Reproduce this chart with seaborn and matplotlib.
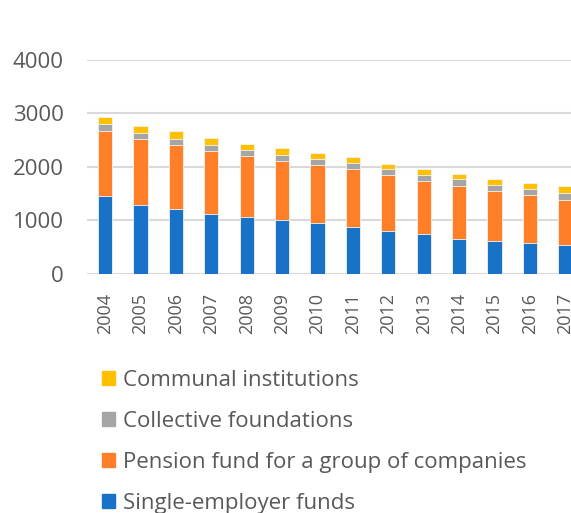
import numpy as np
import pandas as pd
import matplotlib
matplotlib.use("Agg")
import matplotlib.pyplot as plt
import seaborn as sns
from matplotlib.patches import Patch

years = [str(y) for y in range(2004, 2018)]
single_employer = [1457, 1289, 1214, 1121, 1053, 997, 941, 878, 803, 735, 654, 616, 579, 536]
group_funds = [1208, 1221, 1195, 1165, 1139, 1113, 1083, 1071, 1034, 996, 978, 923, 885, 840]
collective = [136, 112, 112, 123, 112, 112, 112, 124, 112, 106, 130, 112, 112, 137]
communal = [125, 142, 150, 119, 118, 125, 112, 101, 105, 118, 94, 123, 118, 125]

labels = ["Single-employer funds", "Pension fund for a group of companies",
          "Collective foundations", "Communal institutions"]
colors = ["#1873C8", "#FE7F27", "#A5A5A5", "#FFC000"]
text_color = "#595959"


def main():
    sns.set_style("white")
    plt.rcParams["font.family"] = ["Open Sans", "DejaVu Sans"]

    df = pd.DataFrame({"year": years, labels[0]: single_employer, labels[1]: group_funds,
                       labels[2]: collective, labels[3]: communal})
    cum = df[labels].cumsum(axis=1)

    fig = plt.figure(figsize=(5.71, 5.13), dpi=100)
    ax = fig.add_axes([87.4 / 571, 239.3 / 513, 1 - 87.4 / 571, 214.2 / 513])

    # draw tallest stack first, smaller cumulative sums on top of it
    for lab, col in reversed(list(zip(labels, colors))):
        sns.barplot(x=df["year"], y=cum[lab], color=col, width=0.4, ax=ax,
                    edgecolor="#F3F3F3", linewidth=0.6, saturation=1)

    ax.set_ylim(0, 4000)
    ax.set_xlim(-0.5, 13.16)
    ax.set_yticks([0, 1000, 2000, 3000, 4000])
    ax.yaxis.grid(True, color="#D9D9D9", linewidth=1.5)
    ax.set_axisbelow(True)
    for s in ax.spines.values():
        s.set_visible(False)
    ax.set_xlabel("")
    ax.set_ylabel("")
    ax.tick_params(axis="y", length=0, pad=17, labelsize=16, labelcolor=text_color)
    ax.tick_params(axis="x", length=0, pad=14, labelsize=13, labelcolor=text_color)
    plt.setp(ax.get_xticklabels(), rotation=90, va="top", ha="center")

    handles = [Patch(color=c, label=l) for l, c in zip(labels, colors)][::-1]
    fig.legend(handles=handles, loc="upper left", bbox_to_anchor=(91 / 571, 1 - 359 / 513),
               frameon=False, fontsize=16, labelcolor=text_color, handlelength=0.6,
               handleheight=0.6, handletextpad=0.35, labelspacing=0.9, borderpad=0)

    fig.savefig("out.png", dpi=100)
    plt.close(fig)


if __name__ == "__main__":
    main()
